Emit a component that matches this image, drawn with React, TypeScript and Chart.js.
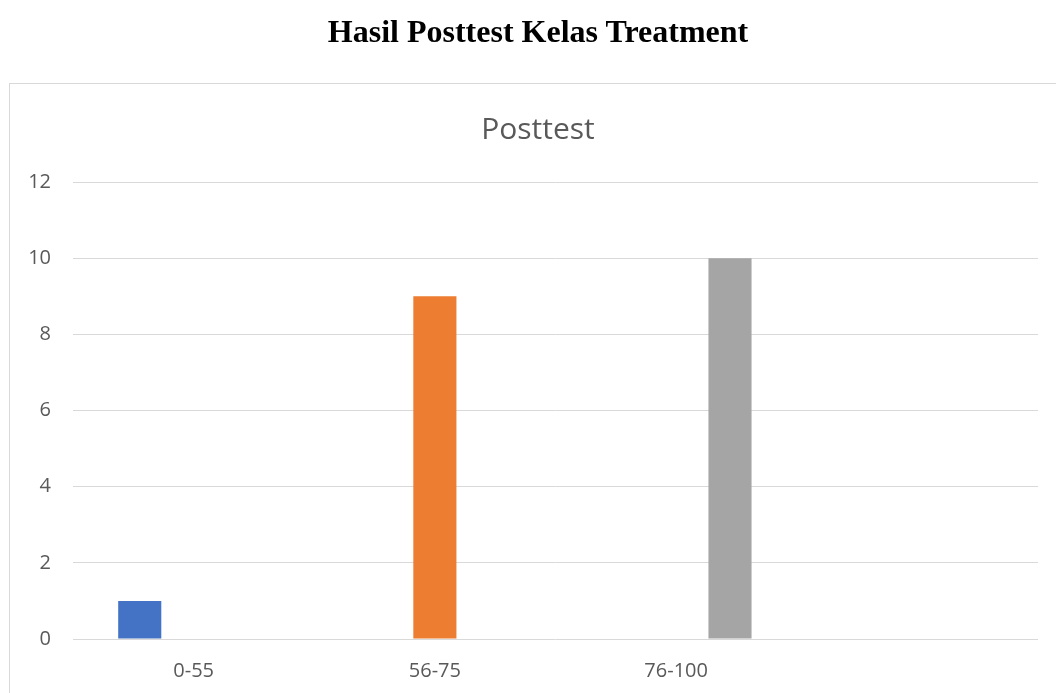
import React, { useEffect, useRef } from "react";
import { Chart, registerables } from "chart.js";

Chart.register(...registerables);

const pageTitle = "Hasil Posttest Kelas Treatment";
const chartTitle = "Posttest";
const categories = ["0-55", "56-75", "76-100", ""];
const seriesNames = ["Series 1", "Series 2", "Series 3"];
const series1 = [1, null, null, null];
const series2 = [null, 9, null, null];
const series3 = [null, null, 10, null];
const seriesColors = ["#4472c4", "#ed7d31", "#a5a5a5"];
const yMin = 0;
const yMax = 12;
const yStep = 2;

export default function App() {
  const ref = useRef<HTMLCanvasElement | null>(null);

  useEffect(() => {
    if (!ref.current) return;
    const values = [series1, series2, series3];
    const chart = new Chart(ref.current, {
      type: "bar",
      data: {
        labels: categories,
        datasets: values.map((v, i) => ({
          label: seriesNames[i],
          data: v,
          backgroundColor: seriesColors[i],
          borderWidth: 0,
          categoryPercentage: 0.67,
          barPercentage: 0.8,
        })),
      },
      options: {
        animation: false,
        responsive: false,
        maintainAspectRatio: false,
        layout: { padding: { left: 0, right: 18, top: 182, bottom: 0 } },
        plugins: {
          legend: { display: false },
          tooltip: { enabled: false },
          title: { display: false },
        },
        scales: {
          x: {
            grid: { display: false },
            border: { display: false },
            ticks: {
              color: "#595959",
              font: { family: "'Open Sans', sans-serif", size: 20 },
              padding: 12,
              maxRotation: 0,
            },
            afterFit: (s: any) => {
              s.height = 54;
            },
          },
          y: {
            min: yMin,
            max: yMax,
            grid: { color: "#d9d9d9", lineWidth: 1, drawTicks: false },
            border: { display: false },
            ticks: {
              stepSize: yStep,
              color: "#595959",
              font: { family: "'Open Sans', sans-serif", size: 20 },
              padding: 22,
            },
            afterFit: (s: any) => {
              s.width = 73;
            },
          },
        },
      },
    });
    return () => chart.destroy();
  }, []);

  return (
    <div style={{ position: "fixed", left: 0, top: 0, width: 1056, height: 693, overflow: "hidden", background: "#ffffff" }}>
      <canvas ref={ref} width={1056} height={693} style={{ position: "absolute", left: 0, top: 0, width: 1056, height: 693 }} />
      <div
        style={{
          position: "absolute",
          left: 9,
          top: 83,
          width: 1200,
          height: 800,
          border: "1.5px solid #d9d9d9",
          pointerEvents: "none",
        }}
      />
      <div
        style={{
          position: "absolute",
          left: 0,
          top: 12,
          width: 1076,
          textAlign: "center",
          fontFamily: "'Liberation Serif', 'Times New Roman', serif",
          fontWeight: "bold",
          fontSize: 32,
          lineHeight: "38.4px",
          color: "#000000",
          whiteSpace: "nowrap",
        }}
      >
        {pageTitle}
      </div>
      <div
        style={{
          position: "absolute",
          left: 0,
          top: 110,
          width: 1076,
          textAlign: "center",
          fontFamily: "'Open Sans', sans-serif",
          fontWeight: "normal",
          fontSize: 30,
          lineHeight: "36px",
          color: "#595959",
          whiteSpace: "nowrap",
        }}
      >
        {chartTitle}
      </div>
    </div>
  );
}
